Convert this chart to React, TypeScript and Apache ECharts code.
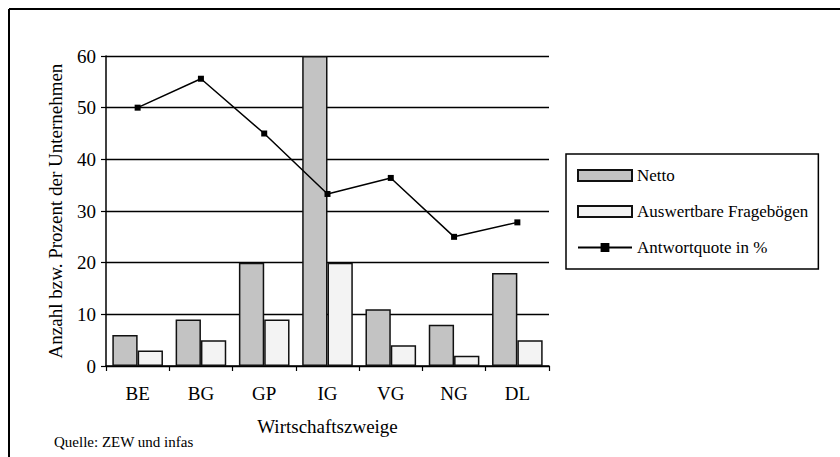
import React, { useEffect, useRef } from "react";
import * as echarts from "echarts";

const categories = ["BE", "BG", "GP", "IG", "VG", "NG", "DL"];
const netto = [6, 9, 20, 60, 11, 8, 18];
const auswertbar = [3, 5, 9, 20, 4, 2, 5];
const antwortquote = [50, 55.6, 45, 33.3, 36.4, 25, 27.8];
const yTicks = [0, 10, 20, 30, 40, 50, 60];

const FONT = "'Liberation Serif', 'DejaVu Serif', serif";

export default function App() {
  const ref = useRef<HTMLDivElement>(null);
  useEffect(() => {
    if (!ref.current) return;
    const chart = echarts.init(ref.current, undefined, { renderer: "svg" });
    chart.setOption({
      animation: false,
      backgroundColor: "#ffffff",
      textStyle: { fontFamily: FONT, color: "#000" },
      grid: { left: 106, right: 291, top: 56, bottom: 91 },
      legend: {
        orient: "vertical",
        left: 566,
        top: 154,
        padding: [13, 10, 13, 11],
        itemWidth: 54,
        itemHeight: 11,
        itemGap: 19,
        borderColor: "#000",
        borderWidth: 1.5,
        textStyle: { fontFamily: FONT, fontSize: 17, color: "#000" },
        data: [
          { name: "Netto", icon: "rect" },
          { name: "Auswertbare Fragebögen", icon: "rect" },
          { name: "Antwortquote in %" },
        ],
      },
      xAxis: {
        type: "category",
        data: categories,
        name: "Wirtschaftszweige",
        nameLocation: "middle",
        nameGap: 51,
        nameTextStyle: { fontFamily: FONT, fontSize: 19, color: "#000" },
        axisLine: { show: true, lineStyle: { color: "#000", width: 1.5 } },
        axisTick: { show: true, length: 5, lineStyle: { color: "#000", width: 1.2 } },
        axisLabel: { fontFamily: FONT, fontSize: 19, color: "#000", margin: 18 },
      },
      yAxis: {
        type: "value",
        min: 0,
        max: 60,
        interval: 10,
        name: "Anzahl bzw. Prozent der Unternehmen",
        nameLocation: "middle",
        nameGap: 41,
        nameTextStyle: { fontFamily: FONT, fontSize: 19, color: "#000" },
        axisLine: { show: true, lineStyle: { color: "#000", width: 1.5 } },
        axisTick: { show: true, length: 5, lineStyle: { color: "#000", width: 1.2 } },
        axisLabel: {
          fontFamily: FONT,
          fontSize: 19,
          color: "#000",
          margin: 10,
          formatter: (v: number) => (yTicks.includes(v) ? String(v) : ""),
        },
        splitLine: { show: true, lineStyle: { color: "#000", width: 1.3 } },
      },
      series: [
        {
          name: "Netto",
          type: "bar",
          data: netto,
          barGap: "0%",
          barCategoryGap: "20%",
          itemStyle: { color: "#c3c3c3", borderColor: "#111", borderWidth: 1.5 },
        },
        {
          name: "Auswertbare Fragebögen",
          type: "bar",
          data: auswertbar,
          itemStyle: { color: "#f3f3f3", borderColor: "#111", borderWidth: 1.5 },
        },
        {
          name: "Antwortquote in %",
          type: "line",
          data: antwortquote,
          symbol: "rect",
          symbolSize: 6,
          lineStyle: { color: "#000", width: 1.5 },
          itemStyle: { color: "#000" },
          z: 5,
        },
      ],
      graphic: [
        { type: "line", shape: { x1: 9, y1: 9, x2: 840, y2: 9 }, style: { stroke: "#000", lineWidth: 2 } },
        { type: "line", shape: { x1: 9, y1: 9, x2: 9, y2: 457 }, style: { stroke: "#000", lineWidth: 2 } },
        {
          type: "text",
          left: 54,
          top: 434,
          style: { text: "Quelle: ZEW und infas", fontFamily: FONT, fontSize: 15, fill: "#000" },
        },
      ],
    });
    return () => chart.dispose();
  }, []);
  return (
    <div
      ref={ref}
      style={{ position: "fixed", left: 0, top: 0, width: 840, height: 457 }}
    />
  );
}
